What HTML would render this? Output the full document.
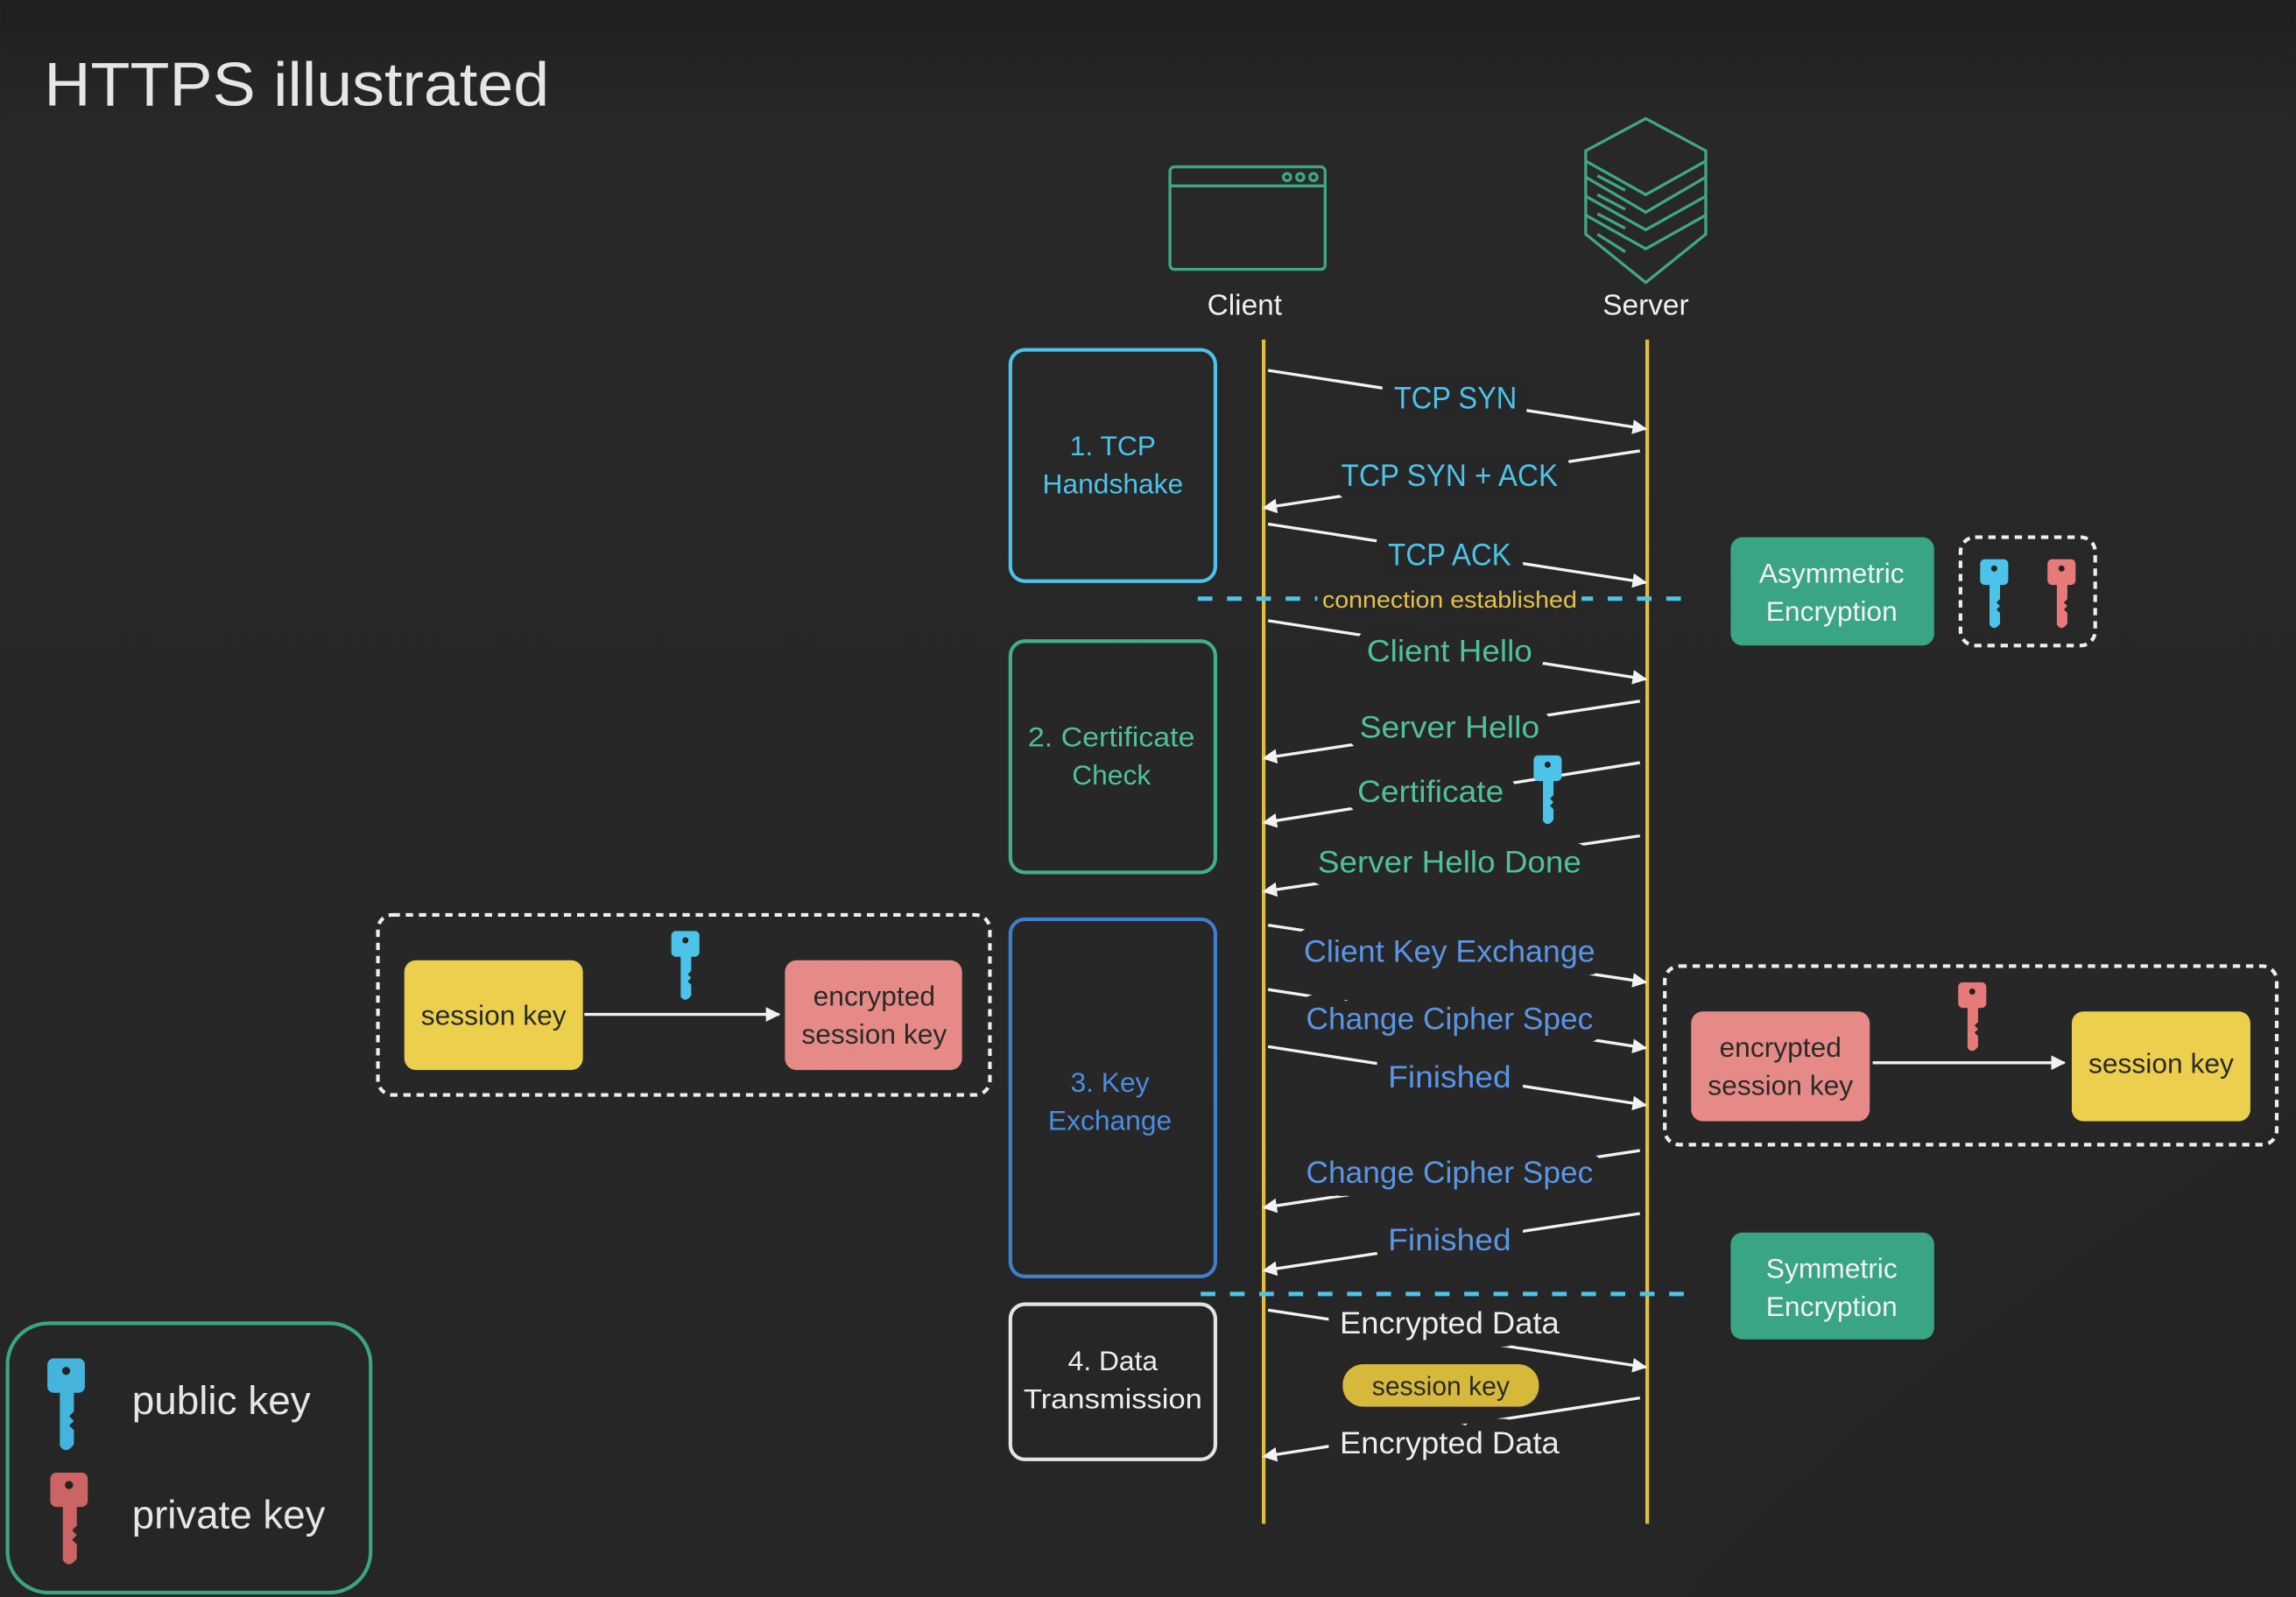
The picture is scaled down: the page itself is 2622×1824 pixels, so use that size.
<!DOCTYPE html>
<html><head><meta charset="utf-8"><style>
html,body{margin:0;padding:0;background:#262626;}
svg{display:block}
text{font-family:"Liberation Sans",sans-serif;}
</style></head><body>
<svg width="2622" height="1824" viewBox="0 0 1568 1091" xmlns="http://www.w3.org/2000/svg">
<defs>
<linearGradient id="bg" x1="0" y1="0" x2="0" y2="1">
<stop offset="0" stop-color="#1f1f1f"/><stop offset="0.08" stop-color="#282828"/><stop offset="1" stop-color="#262626"/>
</linearGradient>
<marker id="ah" markerWidth="10" markerHeight="10" refX="9" refY="5" orient="auto" markerUnits="userSpaceOnUse">
<path d="M0,0 L10,5 L0,10 z" fill="#f2f2f2"/>
</marker>
<symbol id="key" viewBox="0 0 24 60">
<rect x="0" y="0" width="24" height="22" rx="4"/>
<path d="M7,20 H17 V34 L14,37 L17,40 L14,43 L17,46 V55 Q12,62 8,56 V22 z"/>
<circle cx="12" cy="8" r="2.6" fill="#222"/>
</symbol>
</defs>
<rect width="1568" height="1091" fill="url(#bg)"/>
<path d="M1150,1091 C1250,980 1380,880 1568,760 L1568,1091 z" fill="#242424"/>

<text x="30" y="72" font-size="42" fill="#e6e6e6" textLength="345" lengthAdjust="spacingAndGlyphs">HTTPS illustrated</text>

<!-- client icon -->
<g fill="none" stroke="#3fa783" stroke-width="2">
<rect x="799" y="114" width="106" height="70" rx="3"/>
<line x1="799" y1="127" x2="905" y2="127"/>
<circle cx="879" cy="121" r="2.5"/><circle cx="888" cy="121" r="2.5"/><circle cx="897" cy="121" r="2.5"/>
<path d="M1124,81 L1165,103 L1165,110 L1124,133 L1083,110 L1083,103 z"/>
<path d="M1083,110 L1083,121 L1124,145 L1165,121 L1165,110"/>
<path d="M1083,121 L1083,134 L1124,157 L1165,134 L1165,121"/>
<path d="M1083,134 L1083,147 L1124,170 L1165,147 L1165,134"/>
<path d="M1083,147 L1083,160 L1124,193 L1165,160 L1165,147"/>
<path d="M1091,120 L1110,130 M1091,133 L1110,143 M1091,146 L1110,156 M1091,160 L1110,172"/>
</g>
<text x="850" y="215" font-size="20" fill="#f0f0f0" text-anchor="middle">Client</text>
<text x="1124" y="215" font-size="20" fill="#f0f0f0" text-anchor="middle">Server</text>

<line x1="863" y1="232" x2="863" y2="1041" stroke="#e3bd3c" stroke-width="2.5"/>
<line x1="1125" y1="232" x2="1125" y2="1041" stroke="#e3bd3c" stroke-width="2.5"/>

<g fill="none" stroke-width="2.5">
<rect x="690" y="239" width="140" height="158" rx="10" stroke="#4cc3e8"/>
<rect x="690" y="438" width="140" height="158" rx="10" stroke="#3fb08a"/>
<rect x="690" y="628" width="140" height="244" rx="10" stroke="#3f7fcc"/>
<rect x="690" y="891" width="140" height="106" rx="10" stroke="#e4e4e4"/>
</g>
<g font-size="19" text-anchor="middle">
<text x="760" y="311" fill="#4cc3e8">1. TCP</text><text x="760" y="337" fill="#4cc3e8">Handshake</text>
<text x="759" y="510" fill="#4fc19a" textLength="114" lengthAdjust="spacingAndGlyphs">2. Certificate</text><text x="759" y="536" fill="#4fc19a">Check</text>
<text x="758" y="746" fill="#4a8ee0">3. Key</text><text x="758" y="772" fill="#4a8ee0">Exchange</text>
<text x="760" y="936" fill="#eeeeee">4. Data</text><text x="760" y="962" fill="#eeeeee" textLength="122" lengthAdjust="spacingAndGlyphs">Transmission</text>
</g>

<g stroke="#f2f2f2" stroke-width="2" marker-end="url(#ah)">
<line x1="866" y1="253" x2="1124" y2="293"/>
<line x1="1120" y1="308" x2="863" y2="347"/>
<line x1="866" y1="358" x2="1124" y2="398"/>
<line x1="866" y1="424" x2="1124" y2="464"/>
<line x1="1120" y1="479" x2="863" y2="518"/>
<line x1="1120" y1="521" x2="863" y2="562"/>
<line x1="1120" y1="571" x2="863" y2="609"/>
<line x1="866" y1="632" x2="1124" y2="671"/>
<line x1="866" y1="676" x2="1124" y2="716"/>
<line x1="866" y1="715" x2="1124" y2="755"/>
<line x1="1120" y1="786" x2="863" y2="825"/>
<line x1="1120" y1="829" x2="863" y2="868"/>
<line x1="866" y1="895" x2="1124" y2="934"/>
<line x1="1120" y1="955" x2="863" y2="995"/>
</g>
<g font-size="21" text-anchor="middle" paint-order="stroke" stroke="#272727" stroke-width="18" stroke-linejoin="round" lengthAdjust="spacingAndGlyphs">
<text x="994" y="279" fill="#4cc3e8" textLength="84" lengthAdjust="spacingAndGlyphs">TCP SYN</text>
<text x="990" y="332" fill="#4cc3e8" textLength="148" lengthAdjust="spacingAndGlyphs">TCP SYN + ACK</text>
<text x="990" y="386" fill="#4cc3e8" textLength="84" lengthAdjust="spacingAndGlyphs">TCP ACK</text>
<text x="990" y="452" fill="#4fc19a" textLength="113" lengthAdjust="spacingAndGlyphs">Client Hello</text>
<text x="990" y="504" fill="#4fc19a" textLength="123" lengthAdjust="spacingAndGlyphs">Server Hello</text>
<text x="977" y="548" fill="#4fc19a" textLength="100" lengthAdjust="spacingAndGlyphs">Certificate</text>
<text x="990" y="596" fill="#4fc19a" textLength="180" lengthAdjust="spacingAndGlyphs">Server Hello Done</text>
<text x="990" y="657" fill="#5a96e6" textLength="199" lengthAdjust="spacingAndGlyphs">Client Key Exchange</text>
<text x="990" y="703" fill="#5a96e6" textLength="196" lengthAdjust="spacingAndGlyphs">Change Cipher Spec</text>
<text x="990" y="743" fill="#5a96e6" textLength="84" lengthAdjust="spacingAndGlyphs">Finished</text>
<text x="990" y="808" fill="#5a96e6" textLength="196" lengthAdjust="spacingAndGlyphs">Change Cipher Spec</text>
<text x="990" y="854" fill="#5a96e6" textLength="84" lengthAdjust="spacingAndGlyphs">Finished</text>
<text x="990" y="911" fill="#eeeeee" textLength="150" lengthAdjust="spacingAndGlyphs">Encrypted Data</text>
<text x="990" y="993" fill="#eeeeee" textLength="150" lengthAdjust="spacingAndGlyphs">Encrypted Data</text>
</g>
<use href="#key" x="1045" y="516" width="24" height="48" fill="#4cc3e8"/>

<line x1="818" y1="409" x2="1158" y2="409" stroke="#4cc3e8" stroke-width="3" stroke-dasharray="10,10"/>
<text x="990" y="415" font-size="16" fill="#e3c24a" text-anchor="middle" paint-order="stroke" stroke="#272727" stroke-width="8" textLength="174" lengthAdjust="spacingAndGlyphs">connection established</text>
<line x1="820" y1="884" x2="1160" y2="884" stroke="#4cc3e8" stroke-width="3" stroke-dasharray="10,10"/>

<rect x="917" y="932" width="134" height="29" rx="14" fill="#d6b83a"/>
<text x="984" y="953" font-size="18" fill="#2a2a2a" text-anchor="middle">session key</text>

<rect x="1182" y="367" width="139" height="74" rx="8" fill="#3aa584"/>
<text x="1251" y="398" font-size="19" fill="#f2f2f2" text-anchor="middle">Asymmetric</text>
<text x="1251" y="424" font-size="19" fill="#f2f2f2" text-anchor="middle">Encryption</text>
<rect x="1339" y="367" width="92" height="74" rx="10" fill="none" stroke="#eee" stroke-width="2.5" stroke-dasharray="5,4"/>
<use href="#key" x="1350" y="382" width="24" height="48" fill="#4cc3e8"/>
<use href="#key" x="1396" y="382" width="24" height="48" fill="#e57a78"/>
<rect x="1182" y="842" width="139" height="73" rx="8" fill="#3aa584"/>
<text x="1251" y="873" font-size="19" fill="#f2f2f2" text-anchor="middle">Symmetric</text>
<text x="1251" y="899" font-size="19" fill="#f2f2f2" text-anchor="middle">Encryption</text>

<rect x="258" y="625" width="418" height="123" rx="10" fill="none" stroke="#eee" stroke-width="2.5" stroke-dasharray="5,4"/>
<rect x="276" y="656" width="122" height="75" rx="8" fill="#ebcf4d"/>
<text x="337" y="700" font-size="19" fill="#2a2a2a" text-anchor="middle">session key</text>
<line x1="399" y1="693" x2="532" y2="693" stroke="#f2f2f2" stroke-width="2" marker-end="url(#ah)"/>
<rect x="536" y="656" width="121" height="75" rx="8" fill="#e58a86"/>
<text x="597" y="687" font-size="19" fill="#2a2a2a" text-anchor="middle">encrypted</text>
<text x="597" y="713" font-size="19" fill="#2a2a2a" text-anchor="middle">session key</text>
<use href="#key" x="456" y="636" width="24" height="48" fill="#4cc3e8"/>

<rect x="1137" y="660" width="418" height="122" rx="10" fill="none" stroke="#eee" stroke-width="2.5" stroke-dasharray="5,4"/>
<rect x="1155" y="691" width="122" height="75" rx="8" fill="#e58a86"/>
<text x="1216" y="722" font-size="19" fill="#2a2a2a" text-anchor="middle">encrypted</text>
<text x="1216" y="748" font-size="19" fill="#2a2a2a" text-anchor="middle">session key</text>
<line x1="1279" y1="726" x2="1410" y2="726" stroke="#f2f2f2" stroke-width="2" marker-end="url(#ah)"/>
<rect x="1415" y="691" width="122" height="75" rx="8" fill="#ebcf4d"/>
<text x="1476" y="733" font-size="19" fill="#2a2a2a" text-anchor="middle">session key</text>
<use href="#key" x="1335" y="671" width="24" height="48" fill="#e57a78"/>

<rect x="5" y="904" width="248" height="184" rx="28" fill="none" stroke="#3aa584" stroke-width="2.5"/>
<use href="#key" x="28" y="928" width="34" height="64" fill="#45b4dc"/>
<text x="90" y="966" font-size="27" fill="#e6e6e6" textLength="122" lengthAdjust="spacingAndGlyphs">public key</text>
<use href="#key" x="30" y="1006" width="34" height="64" fill="#cc6464"/>
<text x="90" y="1044" font-size="27" fill="#e6e6e6" textLength="132" lengthAdjust="spacingAndGlyphs">private key</text>
</svg>
</body></html>
